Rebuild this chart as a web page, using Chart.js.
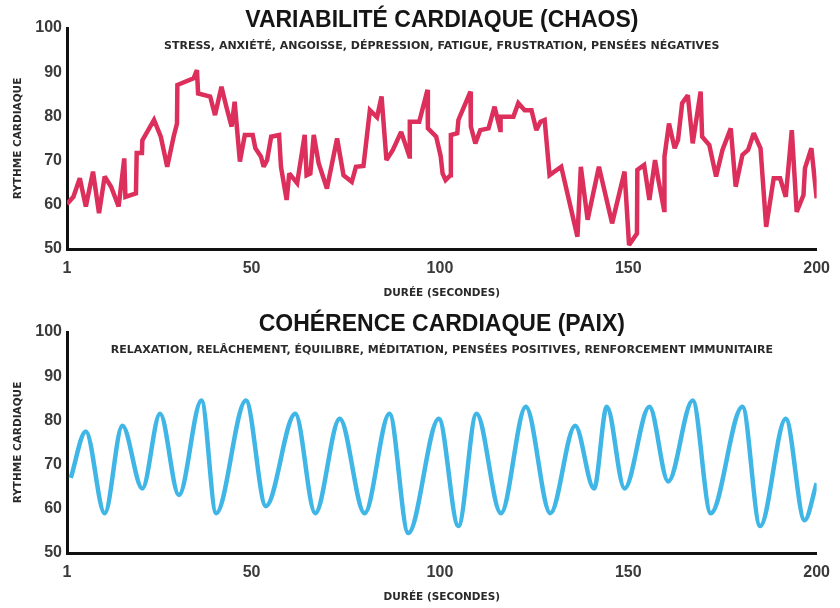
<!DOCTYPE html>
<html lang="fr">
<head>
    <meta charset="UTF-8">
    <title>Variabilité vs cohérence cardiaque</title>
    <script src="https://cdn.jsdelivr.net/npm/chart.js"></script>
    <style>
        body { margin: 0; background: #fff; }
        .box { width: 840px; height: 304px; }
    </style>
</head>
<body>
    <div class="box"><canvas id="chaosChart" width="840" height="304"></canvas></div>
    <div class="box"><canvas id="paixChart" width="840" height="304"></canvas></div>

    <script>
        // Axes
        const xTicks = [1, 50, 100, 150, 200];
        const yTicks = [50, 60, 70, 80, 90, 100];

        // Chaos series (seconds, bpm)
        const chaosX = [1, 2.7, 4.4, 6.0, 7.9, 9.5, 11.0, 12.7, 14.7, 16.2,
            16.5, 19.3, 19.5, 20.9, 21.0, 24.1, 25.9, 27.6, 29.3, 30.2,
            30.3, 34.6, 35.5, 35.8, 39.0, 40.3, 42.0, 43.3, 44.7, 45.5,
            46.9, 48.2, 50.3, 51.0, 52.5, 53.2, 54.1, 55.2, 57.3, 57.8,
            59.3, 60.0, 62.1, 64.1, 64.6, 65.6, 66.5, 67.8, 70.0, 72.7,
            74.4, 76.6, 77.7, 79.7, 81.4, 83.3, 84.5, 85.8, 87.5, 89.7,
            91.9, 92.0, 94.5, 96.7, 96.8, 99.0, 100.2, 100.7, 101.5, 102.8,
            102.9, 104.6, 104.9, 108.1, 108.2, 109.4, 110.7, 112.9, 114.5, 116.0,
            116.1, 119.5, 120.8, 122.5, 124.3, 125.6, 126.7, 127.8, 129.1, 132.2,
            136.5, 137.4, 139.2, 142.2, 145.7, 149.0, 150.2, 152.3, 152.4, 154.2,
            155.6, 157.1, 158.0, 159.5, 159.6, 160.8, 162.3, 163.2, 164.3, 165.8,
            167.1, 169.2, 169.6, 171.5, 173.3, 175.0, 177.2, 178.5, 180.3, 181.8,
            183.3, 185.1, 186.6, 188.6, 190.3, 191.8, 193.4, 194.7, 196.5, 196.9,
            198.6, 200];
        const chaosY = [60.2, 61.8, 66.0, 59.6, 67.5, 58.1, 66.4, 64.1, 59.6, 70.5,
            61.8, 62.6, 71.7, 71.7, 74.6, 79.2, 75.4, 68.6, 75.4, 78.4,
            87.1, 88.6, 90.5, 85.2, 84.5, 80.3, 86.7, 82.2, 77.7, 83.3,
            69.8, 75.8, 75.8, 72.8, 70.9, 68.6, 70.1, 75.4, 75.8, 68.6,
            61.1, 67.1, 64.9, 75.8, 66.7, 67.1, 75.8, 69.4, 63.7, 75.0,
            66.7, 65.2, 68.6, 68.8, 81.4, 79.8, 84.5, 70.1, 72.4, 76.5,
            70.9, 78.8, 78.8, 86.0, 77.3, 75.4, 71.0, 67.1, 65.6, 66.7,
            75.8, 76.2, 79.2, 85.6, 77.7, 73.9, 76.9, 77.3, 82.2, 76.9,
            79.9, 79.9, 83.0, 81.4, 81.4, 76.9, 78.8, 79.2, 66.7, 68.6,
            52.8, 68.6, 56.6, 68.6, 55.8, 67.5, 50.9, 53.5, 67.9, 69.0,
            61.1, 70.1, 65.6, 58.8, 70.9, 78.4, 72.8, 74.7, 83.0, 84.8,
            73.9, 85.6, 75.4, 73.5, 66.4, 72.4, 77.3, 64.1, 71.3, 72.4,
            76.2, 72.8, 55.0, 66.0, 66.0, 61.8, 76.9, 58.4, 62.2, 68.3,
            72.8, 61.5];

        // Coherence series: crests and troughs of the wave
        const paixX = [2, 6.0, 11.0, 15.7, 21.0, 25.7, 30.7, 36.7, 40.6, 48.5,
            53.8, 61.6, 66.9, 73.4, 80.0, 86.6, 91.6, 99.7, 104.9, 109.7,
            116.2, 122.8, 129.3, 135.9, 140.9, 144.3, 149.0, 155.6, 160.6, 167.1,
            171.9, 180.3, 185.0, 191.8, 196.8, 200];
        const paixY = [67.0, 77.5, 59.0, 78.8, 64.6, 81.5, 63.1, 84.5, 59.0, 84.5,
            60.6, 81.5, 59.0, 80.4, 59.0, 81.5, 54.5, 80.4, 56.1, 81.5,
            59.0, 83.1, 59.0, 78.8, 64.6, 83.1, 64.6, 83.1, 66.2, 84.5,
            59.0, 83.1, 56.1, 80.4, 57.4, 65.8];

        const chaosTitle = 'VARIABILITÉ CARDIAQUE (CHAOS)';
        const chaosSub = 'STRESS, ANXIÉTÉ, ANGOISSE, DÉPRESSION, FATIGUE, FRUSTRATION, PENSÉES NÉGATIVES';
        const paixTitle = 'COHÉRENCE CARDIAQUE (PAIX)';
        const paixSub = 'RELAXATION, RELÂCHEMENT, ÉQUILIBRE, MÉDITATION, PENSÉES POSITIVES, RENFORCEMENT IMMUNITAIRE';

        const FONT = '"Liberation Sans", Arial, sans-serif';
        const WIDE = '"DejaVu Sans", Verdana, sans-serif';

        // draws the heading over the plot area (it sits inside the plot in the original)
        const headingPlugin = {
            id: 'heading',
            beforeDatasetsDraw(chart) {
                // keep the spikes pointed but not overshooting
                chart.ctx.miterLimit = 2.5;
            },
            afterDraw(chart, args, opts) {
                const { ctx, chartArea } = chart;
                const cx = (chartArea.left + chartArea.right) / 2;
                ctx.save();
                ctx.textAlign = 'center';
                ctx.textBaseline = 'middle';
                ctx.fillStyle = '#151515';
                ctx.font = 'bold 23px ' + FONT;
                ctx.fillText(opts.title, cx, chartArea.top - 7);
                ctx.fillStyle = '#2a2a2a';
                ctx.font = 'bold 11px ' + WIDE;
                ctx.fillText(opts.sub, cx, chartArea.top + 18);
                ctx.restore();
            }
        };

        function makeChart(id, xs, ys, color, smooth, title, sub) {
            const points = xs.map((x, i) => ({ x: x, y: ys[i] }));
            return new Chart(document.getElementById(id), {
                type: 'line',
                data: {
                    datasets: [{
                        data: points,
                        borderColor: color,
                        borderWidth: 4.5,
                        pointRadius: 0,
                        tension: smooth ? 0.4 : 0,
                        cubicInterpolationMode: smooth ? 'monotone' : 'default',
                        borderJoinStyle: 'miter',
                        fill: false
                    }]
                },
                options: {
                    responsive: false,
                    animation: false,
                    layout: { padding: { left: 0, right: 15, top: 28, bottom: 0 } },
                    plugins: {
                        legend: { display: false },
                        tooltip: { enabled: false },
                        heading: { title: title, sub: sub }
                    },
                    scales: {
                        x: {
                            type: 'linear',
                            min: 1,
                            max: 200,
                            afterBuildTicks: (s) => { s.ticks = xTicks.map(v => ({ value: v })); },
                            afterFit: (s) => { s.height = 55; },
                            grid: { display: false, tickLength: 0 },
                            border: { color: '#111', width: 3 },
                            ticks: {
                                padding: 10,
                                maxRotation: 0,
                                autoSkip: false,
                                color: '#3a3a3a',
                                font: { family: FONT, size: 16, weight: 'bold' }
                            },
                            title: {
                                display: true,
                                text: 'DURÉE (SECONDES)',
                                color: '#2a2a2a',
                                padding: { top: 0, bottom: 4 },
                                font: { family: WIDE, size: 10.5, weight: 'bold' }
                            }
                        },
                        y: {
                            min: 50,
                            max: 100,
                            afterBuildTicks: (s) => { s.ticks = yTicks.map(v => ({ value: v })); },
                            afterFit: (s) => { s.width = 67; },
                            grid: { display: false, tickLength: 0 },
                            border: { color: '#111', width: 3 },
                            ticks: {
                                padding: 5,
                                color: '#3a3a3a',
                                font: { family: FONT, size: 16, weight: 'bold' }
                            },
                            title: {
                                display: true,
                                text: 'RYTHME CARDIAQUE',
                                color: '#2a2a2a',
                                padding: { top: 12, bottom: 0 },
                                font: { family: WIDE, size: 10.5, weight: 'bold' }
                            }
                        }
                    }
                },
                plugins: [headingPlugin]
            });
        }

        makeChart('chaosChart', chaosX, chaosY, '#dc2f5b', false, chaosTitle, chaosSub);
        makeChart('paixChart', paixX, paixY, '#3fb6e6', true, paixTitle, paixSub);
    </script>
</body>
</html>
